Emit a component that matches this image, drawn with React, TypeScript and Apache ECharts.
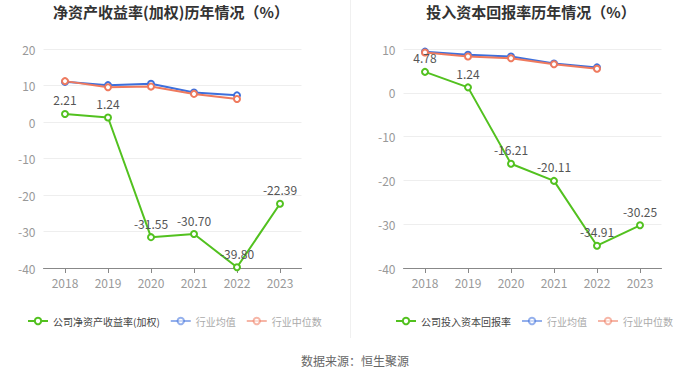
import React, { useEffect, useRef } from "react";
import * as echarts from "echarts";

const years = ["2018", "2019", "2020", "2021", "2022", "2023"];
const roeCompany = [2.21, 1.24, -31.55, -30.7, -39.8, -22.39];
const roeIndustryAvg = [11.0, 10.1, 10.5, 8.1, 7.3];
const roeIndustryMedian = [11.2, 9.5, 9.7, 7.7, 6.3];
const roicCompany = [4.78, 1.24, -16.21, -20.11, -34.91, -30.25];
const roicIndustryAvg = [9.4, 8.7, 8.3, 6.7, 5.8];
const roicIndustryMedian = [9.2, 8.3, 7.9, 6.5, 5.5];

const titleLeft = "净资产收益率(加权)历年情况（%）";
const titleRight = "投入资本回报率历年情况（%）";
const legendLeft = ["公司净资产收益率(加权)", "行业均值", "行业中位数"];
const legendRight = ["公司投入资本回报率", "行业均值", "行业中位数"];
const source = "数据来源：恒生聚源";

const GREEN = "#52c11f";
const BLUE = "#3d6fdc";
const ORANGE = "#ef7a5e";

export default function App() {
  const ref = useRef<HTMLDivElement>(null);
  useEffect(() => {
    const chart = echarts.init(ref.current!, null, { renderer: "svg" });
    const font = "'Microsoft YaHei', 'Noto Sans CJK SC', sans-serif";
    const mkX = (gi: number) => [
      {
        type: "category",
        gridIndex: gi,
        data: years,
        boundaryGap: true,
        axisLine: { show: false },
        axisTick: { show: false },
        axisLabel: { color: "#999", fontSize: 12, margin: 8, fontFamily: font },
        position: "bottom",
      },
      {
        type: "category",
        gridIndex: gi,
        data: years,
        boundaryGap: true,
        position: "bottom",
        axisLine: { show: true, onZero: true, lineStyle: { color: "#888" } },
        axisTick: { show: true, alignWithLabel: true, length: 5, lineStyle: { color: "#888" } },
        axisLabel: { show: false },
      },
    ];
    const mkY = (gi: number, min: number, max: number) => ({
      type: "value",
      gridIndex: gi,
      min,
      max,
      interval: 10,
      axisLine: { show: false },
      axisTick: { show: false },
      axisLabel: { color: "#999", fontSize: 12, fontFamily: font },
      splitLine: { lineStyle: { color: "#eee" } },
    });
    const lineSeries = (
      name: string,
      data: number[],
      color: string,
      xi: number,
      yi: number,
      label: boolean
    ) => ({
      type: "line",
      name,
      data,
      xAxisIndex: xi,
      yAxisIndex: yi,
      symbol: "emptyCircle",
      symbolSize: 6,
      lineStyle: { color, width: 2 },
      itemStyle: { color, borderWidth: 1.5 },
      label: label
        ? {
            show: true,
            position: "top",
            color: "#555",
            fontSize: 12,
            distance: 4,
            fontFamily: font,
            formatter: (p: any) => Number(p.value).toFixed(2),
          }
        : { show: false },
      z: label ? 3 : 2,
    });
    const legendItems = (names: string[]) => [
      { name: names[0], textStyle: { color: "#444" } },
      { name: names[1], textStyle: { color: "#aaa" }, itemStyle: { opacity: 0.55 }, lineStyle: { opacity: 0.55 } },
      { name: names[2], textStyle: { color: "#aaa" }, itemStyle: { opacity: 0.55 }, lineStyle: { opacity: 0.55 } },
    ];
    const legendBase = {
      top: 316,
      itemWidth: 20,
      itemHeight: 8,
      itemGap: 10,
      padding: 0,
      textStyle: { fontSize: 10, fontFamily: font },
    };
    chart.setOption({
      animation: false,
      textStyle: { fontFamily: font },
      title: [
        {
          text: titleLeft,
          left: 166,
          textAlign: "center",
          top: -1,
          textStyle: { fontSize: 15, fontWeight: "bold", color: "#333", fontFamily: font },
        },
        {
          text: titleRight,
          left: 526,
          textAlign: "center",
          top: -1,
          textStyle: { fontSize: 15, fontWeight: "bold", color: "#333", fontFamily: font },
        },
        {
          text: source,
          left: 350,
          textAlign: "center",
          top: 349,
          textStyle: { fontSize: 12, fontWeight: "normal", color: "#666", fontFamily: font },
        },
      ],
      legend: [
        { ...legendBase, left: 27, data: legendItems(legendLeft) },
        { ...legendBase, left: 395, data: legendItems(legendRight) },
      ],
      grid: [
        { left: 43.5, width: 258, top: 49, height: 219 },
        { left: 403.5, width: 258, top: 49, height: 219 },
      ],
      xAxis: [...mkX(0), ...mkX(1)],
      yAxis: [mkY(0, -40, 20), mkY(1, -40, 10)],
      graphic: [
        {
          type: "line",
          shape: { x1: 350.5, y1: 0, x2: 350.5, y2: 338 },
          style: { stroke: "#f0f0f0", lineWidth: 1 },
        },
      ],
      series: [
        lineSeries(legendLeft[0], roeCompany, GREEN, 0, 0, true),
        lineSeries(legendLeft[1], roeIndustryAvg, BLUE, 0, 0, false),
        lineSeries(legendLeft[2], roeIndustryMedian, ORANGE, 0, 0, false),
        lineSeries(legendRight[0], roicCompany, GREEN, 2, 1, true),
        lineSeries(legendRight[1], roicIndustryAvg, BLUE, 2, 1, false),
        lineSeries(legendRight[2], roicIndustryMedian, ORANGE, 2, 1, false),
      ],
    });
    return () => chart.dispose();
  }, []);
  return (
    <div
      ref={ref}
      style={{ position: "fixed", left: 0, top: 0, width: 700, height: 378, background: "#fff" }}
    />
  );
}
